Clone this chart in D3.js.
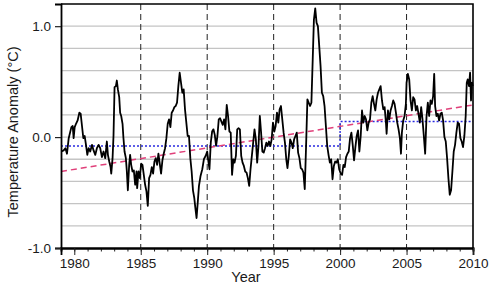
<!DOCTYPE html>
<html lang="en">
<head>
<meta charset="UTF-8">
<title>Temperature anomaly</title>
<style>
    body { margin: 0; background: #fff; }
    text { font-family: "Liberation Sans", Arial, sans-serif; fill: #1a1a1a; }
</style>
<script src="https://d3js.org/d3.v7.min.js"></script>
</head>
<body>
<svg id="chart" width="500" height="293"></svg>
<script>
    // monthly-ish anomaly readings [year, °C]
    const anomaly = [
        [1979.03,-0.13],[1979.2,-0.12],[1979.33,-0.10],[1979.45,-0.15],[1979.58,-0.01],[1979.78,0.09],[1979.88,0.10],[1979.95,-0.01],
        [1980.03,0.09],[1980.13,0.12],[1980.25,0.15],[1980.38,0.22],[1980.48,0.21],[1980.58,0.10],[1980.68,-0.01],[1980.78,0.01],[1980.88,-0.07],[1980.98,-0.16],
        [1981.08,-0.10],[1981.2,-0.13],[1981.33,-0.07],[1981.45,-0.12],[1981.58,-0.16],[1981.7,-0.10],[1981.83,-0.07],[1981.95,-0.10],
        [1982.08,-0.18],[1982.2,-0.13],[1982.33,-0.19],[1982.45,-0.04],[1982.53,-0.16],[1982.63,-0.22],[1982.73,-0.27],[1982.78,-0.33],[1982.88,-0.19],[1982.95,0.01],
        [1983.03,0.45],[1983.13,0.46],[1983.2,0.51],[1983.28,0.43],[1983.38,0.36],[1983.45,0.22],[1983.53,0.19],[1983.63,0.12],[1983.7,-0.01],[1983.78,-0.13],[1983.88,-0.19],[1983.95,-0.30],
        [1984.03,-0.48],[1984.13,-0.25],[1984.2,-0.16],[1984.28,-0.25],[1984.38,-0.31],[1984.48,-0.30],[1984.58,-0.43],[1984.68,-0.31],[1984.73,-0.46],[1984.83,-0.31],[1984.93,-0.37],
        [1985.03,-0.24],[1985.13,-0.25],[1985.23,-0.34],[1985.33,-0.43],[1985.43,-0.49],[1985.53,-0.62],[1985.63,-0.37],[1985.73,-0.34],[1985.83,-0.27],[1985.93,-0.33],
        [1986.03,-0.22],[1986.13,-0.19],[1986.23,-0.25],[1986.33,-0.15],[1986.43,-0.24],[1986.53,-0.33],[1986.63,-0.21],[1986.73,-0.15],[1986.83,-0.10],[1986.93,-0.01],
        [1987.03,0.12],[1987.13,0.16],[1987.23,0.09],[1987.33,0.22],[1987.43,0.24],[1987.53,0.27],[1987.63,0.28],[1987.73,0.31],[1987.83,0.46],[1987.93,0.58],
        [1988.03,0.49],[1988.13,0.40],[1988.23,0.43],[1988.33,0.25],[1988.43,0.13],[1988.53,0.01],[1988.63,0.01],[1988.73,-0.19],[1988.83,-0.31],[1988.93,-0.48],
        [1989.03,-0.55],[1989.1,-0.63],[1989.2,-0.73],[1989.3,-0.57],[1989.38,-0.44],[1989.5,-0.35],[1989.63,-0.29],[1989.75,-0.20],[1989.88,-0.17],
        [1990.0,-0.13],[1990.07,-0.20],[1990.17,-0.29],[1990.27,-0.05],[1990.37,0.05],[1990.47,0.07],[1990.57,0.02],[1990.67,-0.08],[1990.77,0.01],[1990.87,0.16],[1990.97,0.17],
        [1991.07,0.14],[1991.17,0.11],[1991.27,0.16],[1991.37,0.07],[1991.47,0.29],[1991.57,0.19],[1991.67,0.05],[1991.77,0.04],[1991.87,-0.34],[1991.97,-0.20],
        [1992.06,-0.23],[1992.16,-0.17],[1992.26,0.07],[1992.36,0.08],[1992.46,0.07],[1992.56,-0.17],[1992.66,-0.23],[1992.76,-0.26],[1992.86,-0.31],[1992.96,-0.32],
        [1993.06,-0.37],[1993.16,-0.44],[1993.26,-0.29],[1993.36,-0.17],[1993.46,-0.05],[1993.56,0.07],[1993.66,-0.02],[1993.76,-0.23],[1993.86,-0.08],[1993.96,0.19],
        [1994.05,0.05],[1994.15,-0.13],[1994.25,-0.14],[1994.35,-0.10],[1994.45,-0.05],[1994.55,-0.08],[1994.65,-0.04],[1994.75,-0.08],[1994.85,-0.02],[1994.95,0.13],
        [1995.05,0.05],[1995.15,0.10],[1995.25,0.22],[1995.35,0.13],[1995.45,0.25],[1995.55,0.28],[1995.65,0.16],[1995.75,0.04],[1995.85,-0.05],[1995.95,-0.20],
        [1996.04,-0.28],[1996.14,-0.17],[1996.24,-0.02],[1996.34,-0.05],[1996.44,-0.10],[1996.54,-0.02],[1996.64,0.01],[1996.74,0.04],[1996.84,-0.14],[1996.94,-0.19],
        [1997.04,-0.28],[1997.14,-0.29],[1997.24,-0.32],[1997.34,-0.47],[1997.44,-0.08],[1997.54,0.34],[1997.64,0.31],[1997.74,0.28],[1997.84,0.31],[1997.94,0.70],
        [1998.03,1.06],[1998.13,1.16],[1998.23,1.03],[1998.33,1.00],[1998.43,0.82],[1998.53,0.64],[1998.63,0.40],[1998.73,0.37],[1998.83,0.28],[1998.93,0.10],
        [1999.03,-0.08],[1999.13,-0.16],[1999.23,-0.23],[1999.33,-0.20],[1999.43,-0.38],[1999.53,-0.26],[1999.63,-0.22],[1999.73,-0.23],[1999.83,-0.20],[1999.93,-0.29],
        [2000.05,-0.33],[2000.15,-0.34],[2000.25,-0.25],[2000.35,-0.27],[2000.45,-0.18],[2000.55,-0.15],[2000.65,-0.13],[2000.75,-0.01],[2000.85,0.04],[2000.95,-0.07],
        [2001.05,-0.21],[2001.15,-0.09],[2001.25,0.01],[2001.35,0.06],[2001.45,-0.13],[2001.55,0.01],[2001.65,0.24],[2001.75,0.13],[2001.85,0.19],[2001.95,0.16],
        [2002.05,0.06],[2002.15,0.13],[2002.25,0.16],[2002.35,0.31],[2002.45,0.37],[2002.55,0.30],[2002.65,0.24],[2002.75,0.34],[2002.85,0.40],[2002.95,0.43],
        [2003.05,0.46],[2003.15,0.33],[2003.25,0.25],[2003.35,0.27],[2003.45,0.13],[2003.5,0.03],[2003.6,0.24],[2003.7,0.16],[2003.8,0.24],[2003.9,0.28],
        [2004.0,0.33],[2004.1,0.30],[2004.2,0.22],[2004.3,0.13],[2004.4,0.07],[2004.5,-0.01],[2004.58,-0.15],[2004.65,0.04],[2004.75,0.15],[2004.85,0.19],[2004.95,0.30],
        [2005.0,0.49],[2005.1,0.57],[2005.2,0.52],[2005.3,0.33],[2005.4,0.24],[2005.5,0.36],[2005.6,0.34],[2005.7,0.24],[2005.8,0.28],[2005.9,0.21],
        [2006.0,0.13],[2006.1,0.27],[2006.2,0.16],[2006.3,0.01],[2006.4,-0.15],[2006.5,0.18],[2006.6,0.31],[2006.7,0.19],[2006.8,0.33],[2006.9,0.30],
        [2007.0,0.37],[2007.08,0.57],[2007.15,0.28],[2007.25,0.19],[2007.35,0.21],[2007.45,0.15],[2007.55,0.21],[2007.65,0.22],[2007.75,0.15],[2007.85,0.00],[2007.95,-0.04],
        [2008.05,-0.19],[2008.15,-0.37],[2008.25,-0.52],[2008.35,-0.48],[2008.45,-0.31],[2008.55,-0.13],[2008.65,-0.07],[2008.75,0.04],[2008.85,0.13],[2008.95,0.12],
        [2009.05,-0.01],[2009.15,-0.04],[2009.25,-0.09],[2009.35,0.01],[2009.45,0.19],[2009.53,0.49],[2009.6,0.52],[2009.7,0.46],[2009.78,0.58],[2009.85,0.33],[2009.93,0.49],[2009.98,0.46]
    ];

    // period means (blue dotted) and linear trend (pink dashed)
    const periodMeans = [
        {from: 1979, to: 2000, value: -0.08},
        {from: 2000, to: 2010, value: 0.14}
    ];
    const trend = [[1979, -0.31], [2010, 0.29]];

    const markerYears = [1985, 1990, 1995, 2000, 2005];
    const xLabelYears = [1980, 1985, 1990, 1995, 2000, 2005, 2010];
    const yLabelValues = [-1.0, 0.0, 1.0];
    const yGridValues = [-0.8, -0.6, -0.4, -0.2, 0.0, 0.2, 0.4, 0.6, 0.8, 1.0];

    const svg = d3.select('#chart');
    const margin = {top: 4, right: 27, bottom: 45, left: 61};
    const W = 500, H = 293;

    const x = d3.scaleLinear().domain([1979, 2010]).range([margin.left, W - margin.right]);
    const y = d3.scaleLinear().domain([-1.0, 1.2]).range([H - margin.bottom, margin.top]);

    // horizontal grid
    svg.append('g')
        .selectAll('line')
        .data(yGridValues)
        .join('line')
        .attr('x1', x.range()[0]).attr('x2', x.range()[1])
        .attr('y1', d => y(d)).attr('y2', d => y(d))
        .attr('stroke', '#c4c4c4')
        .attr('stroke-width', 1.3);

    // vertical dashed markers
    svg.append('g')
        .selectAll('line')
        .data(markerYears)
        .join('line')
        .attr('x1', d => x(d)).attr('x2', d => x(d))
        .attr('y1', y.range()[1]).attr('y2', y.range()[0])
        .attr('stroke', '#222')
        .attr('stroke-width', 1)
        .attr('stroke-dasharray', '6,4');

    // period means as one step line
    const stepPts = [];
    periodMeans.forEach(p => { stepPts.push([p.from, p.value]); stepPts.push([p.to, p.value]); });
    svg.append('path')
        .datum(stepPts)
        .attr('fill', 'none')
        .attr('stroke', '#2a2ae0')
        .attr('stroke-width', 1.4)
        .attr('stroke-dasharray', '2,2')
        .attr('d', d3.line().x(d => x(d[0])).y(d => y(d[1])));

    // trend
    svg.append('path')
        .datum(trend)
        .attr('fill', 'none')
        .attr('stroke', '#e0407a')
        .attr('stroke-width', 1.5)
        .attr('stroke-dasharray', '6,4')
        .attr('d', d3.line().x(d => x(d[0])).y(d => y(d[1])));

    // the series
    svg.append('path')
        .datum(anomaly)
        .attr('fill', 'none')
        .attr('stroke', '#000')
        .attr('stroke-width', 1.8)
        .attr('stroke-linejoin', 'round')
        .attr('d', d3.line().x(d => x(d[0])).y(d => y(d[1])));

    // frame: top and right
    svg.append('path')
        .attr('fill', 'none')
        .attr('stroke', '#000')
        .attr('stroke-width', 1.6)
        .attr('d', `M${x.range()[0]},${y.range()[1]}H${x.range()[1]}V${y.range()[0]}`);

    // x axis: major every 5 years, minor every year
    const xAxis = svg.append('g').attr('transform', `translate(0,${y.range()[0]})`);
    xAxis.call(d3.axisBottom(x).tickValues(d3.range(1979, 2011)).tickSize(3.5).tickFormat(''));
    xAxis.append('g').call(d3.axisBottom(x).tickValues(xLabelYears).tickSize(7).tickPadding(3).tickFormat(d3.format('d')));
    xAxis.selectAll('.domain').attr('stroke', '#000').attr('stroke-width', 1.8);
    xAxis.selectAll('line').attr('stroke', '#222').attr('stroke-width', 1);
    xAxis.selectAll('text').attr('font-size', 13.5).attr('fill', '#1a1a1a').attr('font-family', '"Liberation Sans", Arial, sans-serif');

    // y axis
    const yAxis = svg.append('g').attr('transform', `translate(${x.range()[0]},0)`);
    yAxis.call(d3.axisLeft(y).tickValues(yLabelValues).tickSize(6).tickPadding(4)
        .tickFormat(d => d.toFixed(1)));
    yAxis.selectAll('.domain').attr('stroke', '#000').attr('stroke-width', 1.8);
    yAxis.selectAll('line').attr('stroke', '#222').attr('stroke-width', 1.2);
    yAxis.selectAll('text').attr('font-size', 13.5).attr('fill', '#1a1a1a').attr('font-family', '"Liberation Sans", Arial, sans-serif');

    // titles
    svg.append('text')
        .attr('x', 246).attr('y', 282)
        .attr('text-anchor', 'middle')
        .attr('font-size', 14.5)
        .text('Year');

    svg.append('text')
        .attr('transform', `translate(18,${(y.range()[0] + y.range()[1]) / 2 + 6}) rotate(-90)`)
        .attr('text-anchor', 'middle')
        .attr('font-size', 14.5)
        .text('Temperature Anomaly (°C)');
</script>
</body>
</html>
